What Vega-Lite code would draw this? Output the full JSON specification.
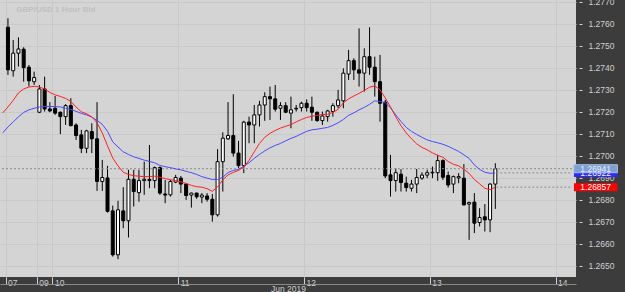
{
  "$schema": "https://vega.github.io/schema/vega-lite/v6.json",
  "width": 576,
  "height": 277,
  "autosize": {"type": "none"},
  "padding": {"left": 0, "top": 0, "right": 49, "bottom": 15},
  "background": "#3c3c3c",
  "config": {
    "view": {"fill": "#d4d4d4", "stroke": null},
    "font": "Liberation Sans",
    "axis": {"labelOverlap": false, "labelFlush": false, "labelBound": false}
  },
  "datasets": {
    "candles": [
      {"i":0,"o":1.27585,"h":1.27626,"l":1.27368,"c":1.27391},
      {"i":1,"o":1.27387,"h":1.27527,"l":1.27360,"c":1.27467},
      {"i":2,"o":1.27467,"h":1.27539,"l":1.27406,"c":1.27486},
      {"i":3,"o":1.27485,"h":1.27494,"l":1.27337,"c":1.27401},
      {"i":4,"o":1.27403,"h":1.27413,"l":1.27315,"c":1.27341},
      {"i":5,"o":1.27337,"h":1.27383,"l":1.27322,"c":1.27356},
      {"i":6,"o":1.27198,"h":1.27322,"l":1.27194,"c":1.27304},
      {"i":7,"o":1.27304,"h":1.27360,"l":1.27201,"c":1.27213},
      {"i":8,"o":1.27213,"h":1.27244,"l":1.27198,"c":1.27204},
      {"i":9,"o":1.27216,"h":1.27272,"l":1.27186,"c":1.27194},
      {"i":10,"o":1.27198,"h":1.27201,"l":1.27098,"c":1.27178},
      {"i":11,"o":1.27178,"h":1.27235,"l":1.27140,"c":1.27228},
      {"i":12,"o":1.27228,"h":1.27262,"l":1.27134,"c":1.27137},
      {"i":13,"o":1.27140,"h":1.27148,"l":1.27072,"c":1.27092},
      {"i":14,"o":1.27095,"h":1.27118,"l":1.27012,"c":1.27034},
      {"i":15,"o":1.27034,"h":1.27118,"l":1.27012,"c":1.27113},
      {"i":16,"o":1.27110,"h":1.27148,"l":1.27012,"c":1.27077},
      {"i":17,"o":1.27077,"h":1.27244,"l":1.26840,"c":1.26883},
      {"i":18,"o":1.26883,"h":1.26981,"l":1.26840,"c":1.26901},
      {"i":19,"o":1.26899,"h":1.26954,"l":1.26741,"c":1.26747},
      {"i":20,"o":1.26749,"h":1.26773,"l":1.26541,"c":1.26549},
      {"i":21,"o":1.26549,"h":1.26795,"l":1.26529,"c":1.26754},
      {"i":22,"o":1.26749,"h":1.26857,"l":1.26670,"c":1.26704},
      {"i":23,"o":1.26704,"h":1.26936,"l":1.26628,"c":1.26893},
      {"i":24,"o":1.26893,"h":1.26936,"l":1.26769,"c":1.26837},
      {"i":25,"o":1.26832,"h":1.26936,"l":1.26791,"c":1.26887},
      {"i":26,"o":1.26887,"h":1.26973,"l":1.26822,"c":1.26893},
      {"i":27,"o":1.26887,"h":1.27049,"l":1.26852,"c":1.26892},
      {"i":28,"o":1.26887,"h":1.26951,"l":1.26852,"c":1.26946},
      {"i":29,"o":1.26946,"h":1.26951,"l":1.26822,"c":1.26830},
      {"i":30,"o":1.26826,"h":1.26890,"l":1.26784,"c":1.26821},
      {"i":31,"o":1.26822,"h":1.26890,"l":1.26814,"c":1.26883},
      {"i":32,"o":1.26880,"h":1.26913,"l":1.26875,"c":1.26901},
      {"i":33,"o":1.26898,"h":1.26908,"l":1.26830,"c":1.26871},
      {"i":34,"o":1.26871,"h":1.26875,"l":1.26799,"c":1.26819},
      {"i":35,"o":1.26821,"h":1.26832,"l":1.26764,"c":1.26830},
      {"i":36,"o":1.26830,"h":1.26832,"l":1.26804,"c":1.26813},
      {"i":37,"o":1.26812,"h":1.26830,"l":1.26784,"c":1.26821},
      {"i":38,"o":1.26817,"h":1.26830,"l":1.26791,"c":1.26802},
      {"i":39,"o":1.26802,"h":1.26826,"l":1.26700,"c":1.26731},
      {"i":40,"o":1.26731,"h":1.27030,"l":1.26723,"c":1.26973},
      {"i":41,"o":1.26973,"h":1.27107,"l":1.26837,"c":1.27080},
      {"i":42,"o":1.27077,"h":1.27244,"l":1.27072,"c":1.27092},
      {"i":43,"o":1.27092,"h":1.27280,"l":1.26996,"c":1.27012},
      {"i":44,"o":1.27012,"h":1.27068,"l":1.26943,"c":1.26955},
      {"i":45,"o":1.26955,"h":1.27159,"l":1.26921,"c":1.27153},
      {"i":46,"o":1.27153,"h":1.27178,"l":1.27057,"c":1.27140},
      {"i":47,"o":1.27140,"h":1.27231,"l":1.27057,"c":1.27186},
      {"i":48,"o":1.27186,"h":1.27250,"l":1.27133,"c":1.27231},
      {"i":49,"o":1.27231,"h":1.27289,"l":1.27159,"c":1.27269},
      {"i":50,"o":1.27269,"h":1.27315,"l":1.27163,"c":1.27259},
      {"i":51,"o":1.27259,"h":1.27322,"l":1.27201,"c":1.27212},
      {"i":52,"o":1.27216,"h":1.27244,"l":1.27163,"c":1.27228},
      {"i":53,"o":1.27228,"h":1.27244,"l":1.27194,"c":1.27198},
      {"i":54,"o":1.27194,"h":1.27269,"l":1.27125,"c":1.27209},
      {"i":55,"o":1.27213,"h":1.27231,"l":1.27201,"c":1.27216},
      {"i":56,"o":1.27219,"h":1.27246,"l":1.27201,"c":1.27239},
      {"i":57,"o":1.27239,"h":1.27257,"l":1.27201,"c":1.27219},
      {"i":58,"o":1.27221,"h":1.27269,"l":1.27159,"c":1.27198},
      {"i":59,"o":1.27198,"h":1.27201,"l":1.27155,"c":1.27160},
      {"i":60,"o":1.27160,"h":1.27201,"l":1.27140,"c":1.27181},
      {"i":61,"o":1.27178,"h":1.27209,"l":1.27155,"c":1.27204},
      {"i":62,"o":1.27201,"h":1.27239,"l":1.27178,"c":1.27228},
      {"i":63,"o":1.27228,"h":1.27300,"l":1.27216,"c":1.27254},
      {"i":64,"o":1.27250,"h":1.27398,"l":1.27216,"c":1.27376},
      {"i":65,"o":1.27372,"h":1.27482,"l":1.27345,"c":1.27433},
      {"i":66,"o":1.27433,"h":1.27444,"l":1.27345,"c":1.27391},
      {"i":67,"o":1.27391,"h":1.27580,"l":1.27315,"c":1.27376},
      {"i":68,"o":1.27376,"h":1.27489,"l":1.27292,"c":1.27451},
      {"i":69,"o":1.27451,"h":1.27585,"l":1.27368,"c":1.27403},
      {"i":70,"o":1.27403,"h":1.27451,"l":1.27269,"c":1.27337},
      {"i":71,"o":1.27337,"h":1.27459,"l":1.27155,"c":1.27239},
      {"i":72,"o":1.27244,"h":1.27254,"l":1.26898,"c":1.26908},
      {"i":73,"o":1.26913,"h":1.27004,"l":1.26814,"c":1.26887},
      {"i":74,"o":1.26887,"h":1.26943,"l":1.26837,"c":1.26923},
      {"i":75,"o":1.26916,"h":1.26939,"l":1.26837,"c":1.26878},
      {"i":76,"o":1.26875,"h":1.26905,"l":1.26837,"c":1.26855},
      {"i":77,"o":1.26852,"h":1.26890,"l":1.26837,"c":1.26871},
      {"i":78,"o":1.26871,"h":1.26940,"l":1.26830,"c":1.26901},
      {"i":79,"o":1.26898,"h":1.26925,"l":1.26890,"c":1.26912},
      {"i":80,"o":1.26912,"h":1.26936,"l":1.26898,"c":1.26923},
      {"i":81,"o":1.26922,"h":1.26951,"l":1.26898,"c":1.26925},
      {"i":82,"o":1.26923,"h":1.27004,"l":1.26886,"c":1.26978},
      {"i":83,"o":1.26978,"h":1.26984,"l":1.26890,"c":1.26902},
      {"i":84,"o":1.26910,"h":1.26928,"l":1.26855,"c":1.26867},
      {"i":85,"o":1.26871,"h":1.26910,"l":1.26830,"c":1.26905},
      {"i":86,"o":1.26899,"h":1.26921,"l":1.26875,"c":1.26905},
      {"i":87,"o":1.26898,"h":1.26962,"l":1.26774,"c":1.26776},
      {"i":88,"o":1.26780,"h":1.26791,"l":1.26617,"c":1.26787},
      {"i":89,"o":1.26789,"h":1.26830,"l":1.26648,"c":1.26693},
      {"i":90,"o":1.26696,"h":1.26761,"l":1.26678,"c":1.26719},
      {"i":91,"o":1.26722,"h":1.26780,"l":1.26655,"c":1.26708},
      {"i":92,"o":1.26708,"h":1.26875,"l":1.26652,"c":1.26871},
      {"i":93,"o":1.26871,"h":1.26966,"l":1.26758,"c":1.26941}
    ],
    "ma": [
      {"i":-1,"red":1.27195,"blue":1.27104},
      {"i":0,"red":1.27222,"blue":1.27131},
      {"i":1,"red":1.27252,"blue":1.27154},
      {"i":2,"red":1.27286,"blue":1.27177},
      {"i":3,"red":1.27304,"blue":1.27197},
      {"i":4,"red":1.27313,"blue":1.27209},
      {"i":5,"red":1.27316,"blue":1.27216},
      {"i":6,"red":1.27313,"blue":1.27222},
      {"i":7,"red":1.27304,"blue":1.27224},
      {"i":8,"red":1.27288,"blue":1.27224},
      {"i":9,"red":1.27277,"blue":1.27224},
      {"i":10,"red":1.27270,"blue":1.27222},
      {"i":11,"red":1.27261,"blue":1.27216},
      {"i":12,"red":1.27247,"blue":1.27211},
      {"i":13,"red":1.27222,"blue":1.27202},
      {"i":14,"red":1.27200,"blue":1.27193},
      {"i":15,"red":1.27191,"blue":1.27186},
      {"i":16,"red":1.27177,"blue":1.27176},
      {"i":17,"red":1.27150,"blue":1.27161},
      {"i":18,"red":1.27104,"blue":1.27143},
      {"i":19,"red":1.27045,"blue":1.27111},
      {"i":20,"red":1.26990,"blue":1.27063},
      {"i":21,"red":1.26954,"blue":1.27040},
      {"i":22,"red":1.26925,"blue":1.27018},
      {"i":23,"red":1.26915,"blue":1.27006},
      {"i":24,"red":1.26909,"blue":1.26995},
      {"i":25,"red":1.26907,"blue":1.26988},
      {"i":26,"red":1.26905,"blue":1.26980},
      {"i":27,"red":1.26905,"blue":1.26974},
      {"i":28,"red":1.26907,"blue":1.26968},
      {"i":29,"red":1.26902,"blue":1.26956},
      {"i":30,"red":1.26896,"blue":1.26950},
      {"i":31,"red":1.26891,"blue":1.26946},
      {"i":32,"red":1.26887,"blue":1.26940},
      {"i":33,"red":1.26881,"blue":1.26936},
      {"i":34,"red":1.26874,"blue":1.26929},
      {"i":35,"red":1.26865,"blue":1.26923},
      {"i":36,"red":1.26859,"blue":1.26915},
      {"i":37,"red":1.26857,"blue":1.26905},
      {"i":38,"red":1.26850,"blue":1.26898},
      {"i":39,"red":1.26838,"blue":1.26892},
      {"i":40,"red":1.26858,"blue":1.26892},
      {"i":41,"red":1.26890,"blue":1.26902},
      {"i":42,"red":1.26913,"blue":1.26924},
      {"i":43,"red":1.26924,"blue":1.26933},
      {"i":44,"red":1.26933,"blue":1.26938},
      {"i":45,"red":1.26949,"blue":1.26952},
      {"i":46,"red":1.26979,"blue":1.26968},
      {"i":47,"red":1.27018,"blue":1.26988},
      {"i":48,"red":1.27056,"blue":1.27006},
      {"i":49,"red":1.27084,"blue":1.27022},
      {"i":50,"red":1.27102,"blue":1.27036},
      {"i":51,"red":1.27115,"blue":1.27047},
      {"i":52,"red":1.27126,"blue":1.27056},
      {"i":53,"red":1.27134,"blue":1.27068},
      {"i":54,"red":1.27142,"blue":1.27079},
      {"i":55,"red":1.27154,"blue":1.27088},
      {"i":56,"red":1.27165,"blue":1.27100},
      {"i":57,"red":1.27174,"blue":1.27111},
      {"i":58,"red":1.27180,"blue":1.27118},
      {"i":59,"red":1.27184,"blue":1.27121},
      {"i":60,"red":1.27187,"blue":1.27125},
      {"i":61,"red":1.27189,"blue":1.27129},
      {"i":62,"red":1.27197,"blue":1.27138},
      {"i":63,"red":1.27211,"blue":1.27150},
      {"i":64,"red":1.27241,"blue":1.27165},
      {"i":65,"red":1.27259,"blue":1.27184},
      {"i":66,"red":1.27272,"blue":1.27195},
      {"i":67,"red":1.27284,"blue":1.27209},
      {"i":68,"red":1.27297,"blue":1.27220},
      {"i":69,"red":1.27312,"blue":1.27234},
      {"i":70,"red":1.27318,"blue":1.27250},
      {"i":71,"red":1.27300,"blue":1.27247},
      {"i":72,"red":1.27263,"blue":1.27241},
      {"i":73,"red":1.27222,"blue":1.27218},
      {"i":74,"red":1.27177,"blue":1.27186},
      {"i":75,"red":1.27137,"blue":1.27156},
      {"i":76,"red":1.27104,"blue":1.27129},
      {"i":77,"red":1.27077,"blue":1.27111},
      {"i":78,"red":1.27054,"blue":1.27097},
      {"i":79,"red":1.27038,"blue":1.27084},
      {"i":80,"red":1.27027,"blue":1.27072},
      {"i":81,"red":1.27013,"blue":1.27065},
      {"i":82,"red":1.27002,"blue":1.27059},
      {"i":83,"red":1.26993,"blue":1.27052},
      {"i":84,"red":1.26974,"blue":1.27043},
      {"i":85,"red":1.26961,"blue":1.27031},
      {"i":86,"red":1.26954,"blue":1.27020},
      {"i":87,"red":1.26938,"blue":1.27004},
      {"i":88,"red":1.26920,"blue":1.26988},
      {"i":89,"red":1.26892,"blue":1.26958},
      {"i":90,"red":1.26872,"blue":1.26938},
      {"i":91,"red":1.26852,"blue":1.26925},
      {"i":92,"red":1.26845,"blue":1.26920},
      {"i":93,"red":1.26857,"blue":1.26922}
    ],
    "tags": [
      {"label":"1.26857","price":1.26857,"kind":"ma1"},
      {"label":"1.26922","price":1.26922,"kind":"ma2"},
      {"label":"1.26941","price":1.26941,"kind":"bid"}
    ]
  },
  "layer": [
    {
      "data": {"name": "candles"},
      "mark": {"type": "rule", "color": "#000000", "strokeWidth": 1},
      "encoding": {
        "x": {
          "field": "i", "type": "quantitative",
          "scale": {"domain": [-0.5625, 107.44], "nice": false, "zero": false},
          "axis": {
            "orient": "bottom", "offset": 7, "tickCount": 30,
            "values": [-0.45, 5.5, 8.5, 32.5, 56.5, 80.5, 104.5],
            "labelExpr": "datum.value < 0 ? '07' : datum.value < 6 ? '09' : datum.value < 9 ? '10' : datum.value < 33 ? '11' : datum.value < 57 ? '12' : datum.value < 81 ? '13' : '14'",
            "domain": true, "domainColor": "#8a8a8a", "domainWidth": 1,
            "ticks": true, "tickSize": -7, "tickColor": "#d0d0d0", "tickWidth": 1,
            "labelAlign": "left", "labelBaseline": "top", "labelPadding": 1, "labelOffset": 2,
            "labelFlush": false, "labelOverlap": false, "labelBound": false,
            "labelColor": "#d0d0d0", "labelFontSize": 8.5, "labelFont": "Liberation Sans",
            "grid": true, "gridColor": "#c9c9c9", "gridWidth": 1,
            "title": "Jun 2019", "titleColor": "#d0d0d0", "titleFontSize": 8.5,
            "titleFontWeight": "normal", "titleFont": "Liberation Sans",
            "titleBaseline": "top", "titleY": 0, "titlePadding": 0
          }
        },
        "y": {
          "field": "l", "type": "quantitative",
          "scale": {"domain": [1.26448, 1.27709], "nice": false, "zero": false},
          "axis": {
            "orient": "right", "offset": 3, "tickCount": 30,
            "values": [1.265, 1.266, 1.267, 1.268, 1.269, 1.27, 1.271, 1.272, 1.273, 1.274, 1.275, 1.276, 1.277],
            "format": ".4f", "domain": false,
            "tickSize": 3, "tickColor": "#d0d0d0", "labelPadding": 6,
            "labelColor": "#d0d0d0", "labelFontSize": 8.5, "labelFont": "Liberation Sans",
            "labelBaseline": "middle", "labelFlush": false, "labelOverlap": false, "labelBound": false,
            "grid": true, "gridColor": "#c9c9c9", "gridWidth": 1, "title": null
          }
        },
        "y2": {"field": "h"}
      }
    },
    {
      "data": {"name": "candles"},
      "mark": {"type": "bar", "width": 3, "stroke": "#000000", "strokeWidth": 1},
      "encoding": {
        "x": {"field": "i", "type": "quantitative"},
        "y": {"field": "o", "type": "quantitative"},
        "y2": {"field": "c"},
        "fill": {"condition": {"test": "datum.c >= datum.o", "value": "#ffffff"}, "value": "#000000"}
      }
    },
    {
      "data": {"values": [{"bid": 1.26941}]},
      "mark": {"type": "rule", "color": "#8c8c8c", "strokeDash": [2, 2], "strokeWidth": 1},
      "encoding": {
        "y": {"field": "bid", "type": "quantitative"}
      }
    },
    {
      "data": {"name": "tags"},
      "transform": [{"filter": "datum.kind != 'bid'"}],
      "mark": {"type": "rule", "color": "#8c8c8c", "strokeDash": [2, 2], "strokeWidth": 1},
      "encoding": {
        "x": {"datum": 93.2, "type": "quantitative"},
        "x2": {"datum": 107.44},
        "y": {"field": "price", "type": "quantitative"}
      }
    },
    {
      "data": {"name": "ma"},
      "mark": {"type": "line", "color": "#4a4aff", "strokeWidth": 1, "clip": true},
      "encoding": {
        "x": {"field": "i", "type": "quantitative"},
        "y": {"field": "blue", "type": "quantitative"}
      }
    },
    {
      "data": {"name": "ma"},
      "mark": {"type": "line", "color": "#ff2020", "strokeWidth": 1, "clip": true},
      "encoding": {
        "x": {"field": "i", "type": "quantitative"},
        "y": {"field": "red", "type": "quantitative"}
      }
    },
    {
      "data": {"name": "tags"},
      "transform": [{"filter": "datum.kind != 'bid'"}],
      "mark": {"type": "rect", "yOffset": -4, "y2Offset": 4},
      "encoding": {
        "x": {"datum": 108.0, "type": "quantitative"},
        "x2": {"datum": 116.3},
        "y": {"field": "price", "type": "quantitative"},
        "y2": {"field": "price"},
        "fill": {"field": "kind", "type": "nominal", "scale": {"domain": ["ma1", "ma2", "bid"], "range": ["#ff0000", "#2b2bff", "#7f9fd3"]}, "legend": null}
      }
    },
    {
      "data": {"name": "tags"},
      "transform": [{"filter": "datum.kind != 'bid'"}],
      "mark": {"type": "text", "fontSize": 8.5, "font": "Liberation Sans", "align": "center", "baseline": "middle", "color": "#f4f4f4"},
      "encoding": {
        "x": {"datum": 112.15, "type": "quantitative"},
        "y": {"field": "price", "type": "quantitative"},
        "text": {"field": "label"}
      }
    },
    {
      "data": {"name": "tags"},
      "transform": [{"filter": "datum.kind == 'bid'"}],
      "mark": {"type": "rect", "yOffset": -4, "y2Offset": 4, "stroke": "#a9bfe6", "strokeWidth": 1},
      "encoding": {
        "x": {"datum": 108.0, "type": "quantitative"},
        "x2": {"datum": 116.3},
        "y": {"field": "price", "type": "quantitative"},
        "y2": {"field": "price"},
        "fill": {"field": "kind", "type": "nominal", "scale": {"domain": ["ma1", "ma2", "bid"], "range": ["#ff0000", "#2b2bff", "#7f9fd3"]}, "legend": null}
      }
    },
    {
      "data": {"name": "tags"},
      "transform": [{"filter": "datum.kind == 'bid'"}],
      "mark": {"type": "text", "fontSize": 8.5, "font": "Liberation Sans", "align": "center", "baseline": "middle", "color": "#e8eefa"},
      "encoding": {
        "x": {"datum": 112.15, "type": "quantitative"},
        "y": {"field": "price", "type": "quantitative"},
        "text": {"field": "label"}
      }
    },
    {
      "data": {"values": [{"title": "GBP/USD  1 Hour Bid", "tx": 1.6, "ty": 1.27664}]},
      "mark": {"type": "text", "fontSize": 8, "font": "Liberation Sans", "fontWeight": "bold", "align": "left", "baseline": "middle", "color": "#c0c0c0"},
      "encoding": {
        "x": {"field": "tx", "type": "quantitative"},
        "y": {"field": "ty", "type": "quantitative"},
        "text": {"field": "title"}
      }
    }
  ]
}
